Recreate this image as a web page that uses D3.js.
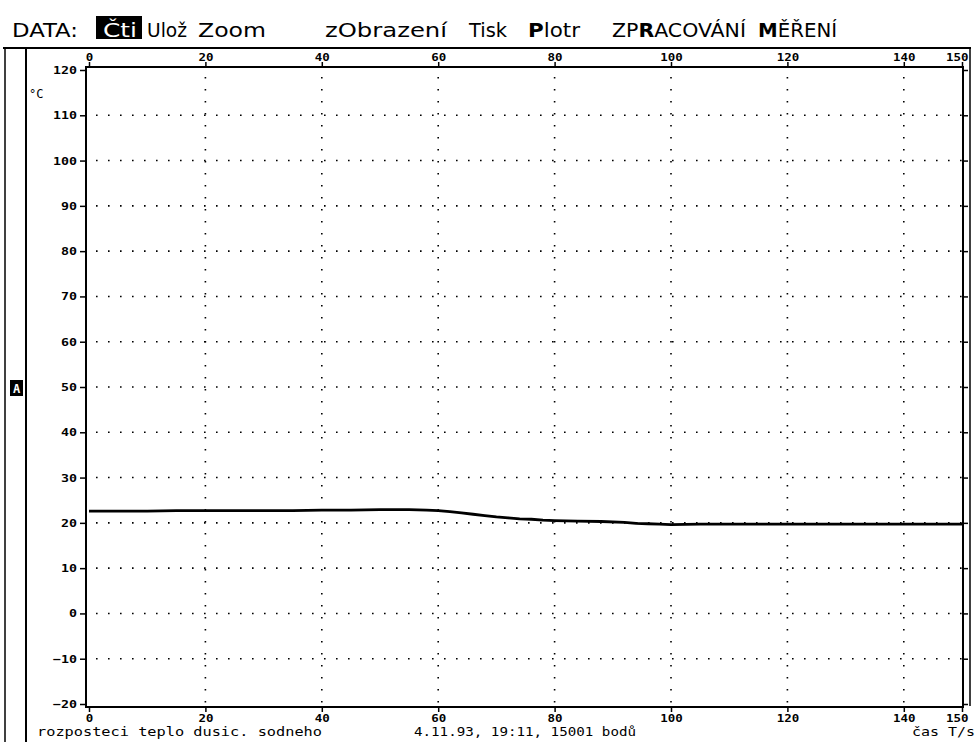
<!DOCTYPE html>
<html>
<head>
<meta charset="utf-8">
<script src="https://cdn.jsdelivr.net/npm/d3@7"></script>
<style>
  html, body { margin: 0; padding: 0; background: #fff; }
  svg { display: block; }
  text { font-family: "DejaVu Sans Mono", "Liberation Mono", monospace; fill: #000; }
  .menu text { font-family: "DejaVu Sans", "Liberation Sans", sans-serif; }
</style>
</head>
<body>
<svg id="chart" width="976" height="742"></svg>
<script>
// Measurement: nitrogen temperature over time (15001 samples, shown as readings)
const timeS = [0, 5, 10, 15, 20, 25, 30, 35, 40, 45, 50, 55, 58, 60, 62, 64, 66, 68, 70, 72, 74, 76, 78, 80, 84, 88, 92, 94, 96, 98, 100, 105, 110, 120, 130, 140, 150];
const tempC = [22.6, 22.6, 22.6, 22.7, 22.7, 22.7, 22.7, 22.7, 22.8, 22.8, 22.9, 22.9, 22.8, 22.7, 22.5, 22.2, 21.9, 21.6, 21.3, 21.1, 20.9, 20.8, 20.6, 20.5, 20.4, 20.3, 20.1, 19.9, 19.8, 19.7, 19.6, 19.7, 19.7, 19.7, 19.7, 19.7, 19.7];

const xTicks = [0, 20, 40, 60, 80, 100, 120, 140, 150];
const xGrid = [20, 40, 60, 80, 100, 120, 140];
const yTicks = [120, 110, 100, 90, 80, 70, 60, 50, 40, 30, 20, 10, 0, -10, -20];
const yGrid = [110, 100, 90, 80, 70, 60, 50, 40, 30, 20, 10, 0, -10];

// menu entries: [text before hotkey, hotkey letter, text after]
const menuWords = [["DATA:", "", ""], ["Čti", "", ""], ["Ulož", "", ""], ["Zoom", "", ""], ["zObrazení", "", ""],
                   ["Tisk", "", ""], ["", "P", "lotr"], ["ZP", "R", "ACOVÁNÍ"], ["", "M", "ĚŘENÍ"]];
const activeMenu = "Čti";
const unitLabel = "°C";
const channelLabel = "A";
const titleLeft = "rozposteci teplo dusic. sodneho";
const titleMid = "4.11.93, 19:11, 15001 bodů";
const axisLabelX = "čas T/s";

const svg = d3.select("#chart");
svg.append("rect").attr("width", 976).attr("height", 742).attr("fill", "#fff");

// ---- screen frame ----
const frame = svg.append("g").attr("stroke", "#000").attr("fill", "none");
frame.append("line").attr("x1", 3).attr("x2", 971).attr("y1", 48).attr("y2", 48).attr("stroke-width", 2);
frame.append("line").attr("x1", 5).attr("x2", 5).attr("y1", 48).attr("y2", 742).attr("stroke-width", 1.5);
frame.append("line").attr("x1", 26).attr("x2", 26).attr("y1", 48).attr("y2", 742).attr("stroke-width", 2);
frame.append("line").attr("x1", 970).attr("x2", 970).attr("y1", 48).attr("y2", 706).attr("stroke-width", 1.5);

// ---- menu bar ----
const menuLayout = [[12, 66], [103, 34], [147, 40], [198, 68], [325, 122], [469, 38], [528, 52], [612, 134], [758, 79]];
const menu = svg.append("g").attr("class", "menu");
menuWords.forEach((parts, i) => {
  const [mx, mw] = menuLayout[i];
  const word = parts.join("");
  const active = word === activeMenu;
  if (active) {
    menu.append("rect").attr("x", 96).attr("y", 16).attr("width", 46).attr("height", 23).attr("fill", "#000");
  }
  const t = menu.append("text")
    .attr("x", mx).attr("y", 37)
    .attr("textLength", mw).attr("lengthAdjust", "spacingAndGlyphs")
    .style("font-size", "20px")
    .style("fill", active ? "#fff" : "#000");
  parts.forEach((p, k) => {
    if (!p) return;
    t.append("tspan").style("font-weight", k === 1 ? "bold" : "normal").text(p);
  });
});

// ---- channel marker ----
svg.append("rect").attr("x", 10).attr("y", 380).attr("width", 13).attr("height", 16).attr("fill", "#000");
svg.append("text").attr("x", 16.5).attr("y", 393).attr("text-anchor", "middle")
  .style("font-size", "12px").style("font-weight", "bold").style("fill", "#fff").text(channelLabel);

// ---- plot ----
const L = 86, R = 963, T = 67, B = 707;
const x = d3.scaleLinear().domain([0, 150]).range([89, 962]);
const y = d3.scaleLinear().domain([-20, 120]).range([704, 70]);

const grid = svg.append("g").attr("stroke", "#000").attr("stroke-width", 1.6)
  .attr("stroke-dasharray", "1.6 10.4");
grid.selectAll("line.v").data(xGrid).join("line").attr("class", "v")
  .attr("x1", d => x(d)).attr("x2", d => x(d)).attr("y1", T + 10).attr("y2", B);
grid.selectAll("line.h").data(yGrid).join("line").attr("class", "h")
  .attr("x1", L + 10).attr("x2", R).attr("y1", d => y(d)).attr("y2", d => y(d));

svg.append("rect").attr("x", L).attr("y", T).attr("width", R - L).attr("height", B - T)
  .attr("fill", "none").attr("stroke", "#000").attr("stroke-width", 2);

function styleAxis(g, perChar) {
  g.select(".domain").remove();
  g.selectAll(".tick line").attr("stroke", "#000").attr("stroke-width", 1.5);
  g.selectAll(".tick text")
    .style("font-size", "11px").style("font-weight", "bold")
    .attr("textLength", d => String(d).length * perChar)
    .attr("lengthAdjust", "spacingAndGlyphs");
}
// the last time label is pulled inside the right edge
function pullLast(g) {
  g.selectAll(".tick text").filter(d => d === 150).attr("text-anchor", "end").attr("x", 6);
}

const fmt = d3.format("d");
svg.append("g").attr("transform", `translate(0,${T})`)
  .call(d3.axisTop(x).tickValues(xTicks).tickFormat(fmt).tickSize(5).tickPadding(1))
  .call(g => styleAxis(g, 7.5)).call(pullLast);
svg.append("g").attr("transform", `translate(0,${B})`)
  .call(d3.axisBottom(x).tickValues(xTicks).tickFormat(fmt).tickSize(5).tickPadding(2))
  .call(g => styleAxis(g, 7.5)).call(pullLast);
svg.append("g").attr("transform", `translate(${L},0)`)
  .call(d3.axisLeft(y).tickValues(yTicks).tickFormat(d => d < 0 ? "−" + Math.abs(d) : fmt(d)).tickSize(6).tickPadding(3))
  .call(g => styleAxis(g, 8));
svg.append("g").attr("transform", `translate(${R},0)`)
  .call(d3.axisRight(y).tickValues(yTicks).tickFormat("").tickSize(5))
  .call(g => styleAxis(g, 0));

// ---- measured curve ----
const line = d3.line().x((d, i) => x(timeS[i])).y(d => y(d));
svg.append("path").datum(tempC)
  .attr("d", line)
  .attr("fill", "none").attr("stroke", "#000")
  .attr("stroke-width", 2.8).attr("stroke-linejoin", "round");

// ---- labels ----
svg.append("text").attr("x", 29).attr("y", 98)
  .style("font-size", "12px").text(unitLabel);

svg.append("text").attr("x", 37).attr("y", 736)
  .attr("textLength", 285).attr("lengthAdjust", "spacingAndGlyphs")
  .style("font-size", "12px").text(titleLeft);
svg.append("text").attr("x", 414).attr("y", 736)
  .attr("textLength", 222).attr("lengthAdjust", "spacingAndGlyphs")
  .style("font-size", "12px").text(titleMid);
svg.append("text").attr("x", 912).attr("y", 736)
  .attr("textLength", 63).attr("lengthAdjust", "spacingAndGlyphs")
  .style("font-size", "12px").text(axisLabelX);
</script>
</body>
</html>
